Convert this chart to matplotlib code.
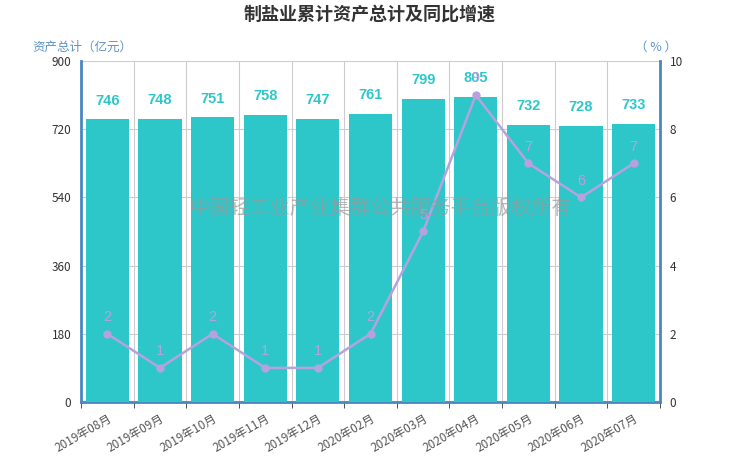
import matplotlib.pyplot as plt
import numpy as np

plt.rcParams['font.family'] = ['Noto Sans CJK SC', 'DejaVu Sans']

# data
months = ['2019年08月', '2019年09月', '2019年10月', '2019年11月', '2019年12月', '2020年02月',
          '2020年03月', '2020年04月', '2020年05月', '2020年06月', '2020年07月']
assets = [746, 748, 751, 758, 747, 761, 799, 805, 732, 728, 733]
growth = [2, 1, 2, 1, 1, 2, 5, 9, 7, 6, 7]
left_ticks = [0, 180, 360, 540, 720, 900]
right_ticks = [0, 2, 4, 6, 8, 10]

bar_color = '#2ec7c9'
line_color = '#b6a2de'
axis_blue = '#4a86c0'

fig = plt.figure(figsize=(7.4, 4.62), dpi=100)
ax = fig.add_axes([81/740, 1-402/462, 579/740, 341/462])
x = np.arange(len(months))

ax.bar(x, assets, width=0.82, color=bar_color, zorder=3)
for xi, v in zip(x, assets):
    ax.annotate(str(v), (xi, v), xytext=(0, 8.5), textcoords='offset points',
                ha='center', va='bottom', fontsize=10.5, fontweight='bold',
                color=bar_color, family='Liberation Sans', zorder=6)

ax.set_xlim(-0.5, len(months) - 0.5)
ax.set_ylim(0, 900)
ax.set_yticks(left_ticks)
ax.set_xticks(x)
ax.set_xticklabels(months, rotation=30, ha='right', rotation_mode='anchor', fontsize=8.5, color='#555')
ax.set_xticks(np.arange(len(months) + 1) - 0.5, minor=True)
ax.tick_params(axis='x', which='major', length=0, pad=7)
ax.tick_params(axis='x', which='minor', length=4, color='#333')
ax.tick_params(axis='y', length=0, labelsize=8.5, labelcolor='#333', pad=7)

ax.grid(axis='y', color='#cccccc', lw=0.8, zorder=0)
ax.grid(axis='x', which='minor', color='#cccccc', lw=0.8, zorder=0)
for s in ['top', 'right']:
    ax.spines[s].set_visible(False)
ax.spines['left'].set_color(axis_blue)
ax.spines['left'].set_linewidth(2)
ax.spines['bottom'].set_color(axis_blue)
ax.spines['bottom'].set_linewidth(2)

ax2 = ax.twinx()
ax2.plot(x, growth, color=line_color, lw=1.8, marker='o', ms=5, zorder=4)
for xi, v in zip(x, growth):
    ax2.annotate(str(v), (xi, v), xytext=(0, 7), textcoords='offset points',
                 ha='center', va='bottom', fontsize=10.5, color=line_color,
                 family='Liberation Sans', zorder=6)
ax2.set_ylim(0, 10)
ax2.set_yticks(right_ticks)
ax2.tick_params(axis='y', length=0, labelsize=8.5, labelcolor='#333', pad=7)
for s in ['top', 'left', 'bottom']:
    ax2.spines[s].set_visible(False)
ax2.spines['right'].set_color(axis_blue)
ax2.spines['right'].set_linewidth(2)

fig.text(0.5, 1-14/462, '制盐业累计资产总计及同比增速', ha='center', va='center',
         fontsize=13, fontweight='bold', color='#333')
fig.text(32/740, 1-47/462, '资产总计（亿元）', ha='left', va='center', fontsize=9, color='#5b94c8')
fig.text(677/740, 1-47/462, '（ % ）', ha='right', va='center', fontsize=9, color='#5b94c8')
fig.text(380/740, 1-208/462, '中国轻工业产业集群公共服务平台版权所有', ha='center', va='center',
         fontsize=14.5, color='#999999', alpha=0.7, zorder=10)

fig.savefig('out.png', dpi=100)
